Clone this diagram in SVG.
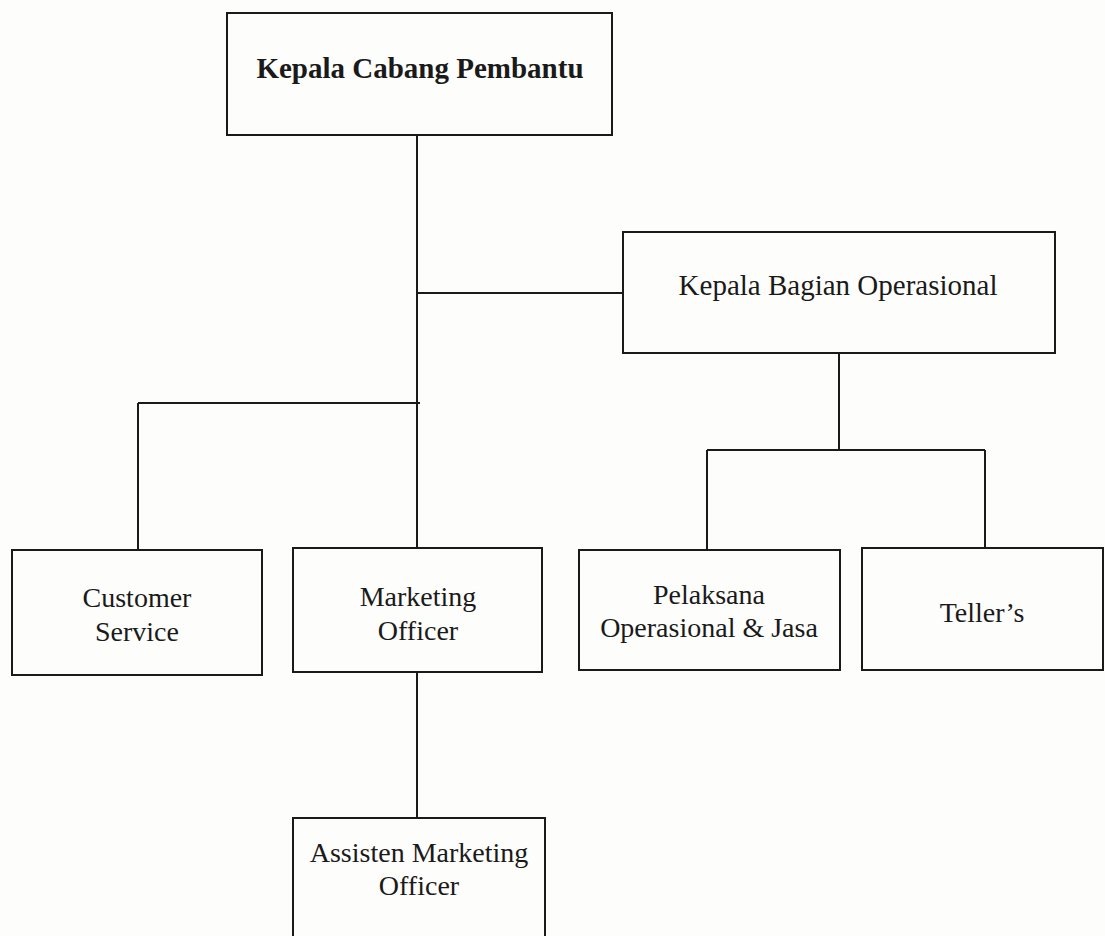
<svg xmlns="http://www.w3.org/2000/svg" width="1105" height="936" viewBox="0 0 1105 936">
<style>
.box{fill:none;stroke:#1a1a1a;stroke-width:2}
.ln{fill:none;stroke:#1a1a1a;stroke-width:2}
text{font-family:"Liberation Serif","Times New Roman",serif;font-size:28px;fill:#1a1a1a;text-anchor:middle}
.b{font-weight:bold}
</style>
<rect width="1105" height="936" fill="#fdfdfb"/>
<g id="connectors">
<path class="ln" d="M417,135 V548"/>
<path class="ln" d="M417,293 H623"/>
<path class="ln" d="M138,403 H420"/>
<path class="ln" d="M138,403 V550"/>
<path class="ln" d="M417,672 V818"/>
<path class="ln" d="M839,353 V450"/>
<path class="ln" d="M707,450 H985"/>
<path class="ln" d="M707,450 V550"/>
<path class="ln" d="M985,450 V548"/>
</g>
<g id="kepala-cabang">
<rect class="box" x="227" y="13" width="385" height="122"/>
<text class="b" x="420" y="78" style="font-size:29px">Kepala Cabang Pembantu</text>
</g>
<g id="kepala-bagian">
<rect class="box" x="623" y="232" width="432" height="121"/>
<text x="838" y="295" style="font-size:29px">Kepala Bagian Operasional</text>
</g>
<g id="customer-service">
<rect class="box" x="12" y="550" width="250" height="125"/>
<text x="137" y="607">Customer</text>
<text x="137" y="641">Service</text>
</g>
<g id="marketing-officer">
<rect class="box" x="293" y="548" width="249" height="124"/>
<text x="418" y="606">Marketing</text>
<text x="418" y="640">Officer</text>
</g>
<g id="pelaksana">
<rect class="box" x="579" y="550" width="261" height="120"/>
<text x="709" y="604">Pelaksana</text>
<text x="709" y="637">Operasional &amp; Jasa</text>
</g>
<g id="tellers">
<rect class="box" x="862" y="548" width="241" height="122"/>
<text x="982" y="622">Teller’s</text>
</g>
<g id="assisten">
<rect class="box" x="293" y="818" width="252" height="130"/>
<text x="419" y="862">Assisten Marketing</text>
<text x="419" y="895">Officer</text>
</g>
</svg>
